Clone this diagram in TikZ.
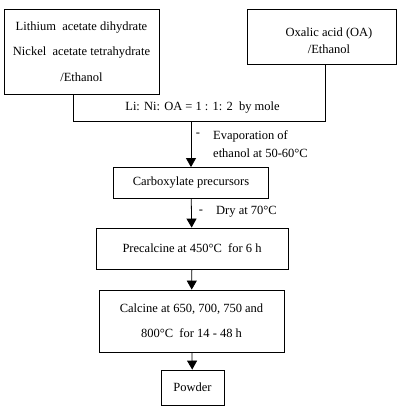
\documentclass[tikz,border=0pt]{standalone}
\usepackage{fontspec}
\setmainfont{Liberation Serif}
\usepackage{tikz}
\usetikzlibrary{arrows.meta,positioning,calc}
\tikzstyle{box}=[draw, line width=0.8pt, inner sep=0pt, font=\fontsize{12.5}{14}\selectfont, align=center]
\tikzstyle{note}=[inner sep=0pt, font=\fontsize{12.5}{14}\selectfont]
\tikzstyle{flow}=[draw, line width=0.8pt, -{Triangle[width=10pt,length=9pt]}]

\begin{document}
\begin{tikzpicture}[x=1pt,y=-1pt]
  \useasboundingbox (0,0) rectangle (400,410);
  % starting materials
  \node[box, minimum width=155, minimum height=85, font=\fontsize{12.5}{25.5}\selectfont] (src1) at (81.5,51.5)
    {Lithium\ \ acetate dihydrate\\Nickel\ \ acetate tetrahydrate\\/Ethanol};
  \node[box, minimum width=149, minimum height=55] (src2) at (321.5,36.5) {};
  \node[note, align=center, font=\fontsize{12.5}{17}\selectfont] (src2txt) at (329,40.5) {Oxalic acid (OA)\\/Ethanol};
  % mixing
  \coordinate (mixL) at (73,121);
  \coordinate (mixR) at (325,121);
  \draw[line width=0.8pt] (mixL |- src1.south) -- (mixL) -- (mixR) -- (mixR |- src2.south);
  \node[note] (ratio) at (202.5,108) {Li: Ni: OA = 1 : 1: 2 \ by mole};
  % process chain
  \node[box, minimum width=155, minimum height=31] (carb) at (191,183) {Carboxylate precursors};
  \node[box, minimum width=192, minimum height=41] (prec) at (192,248.5) {Precalcine at 450°C\ \ for 6 h};
  \node[box, minimum width=185, minimum height=62, font=\fontsize{12.5}{25}\selectfont] (calc) at (191.5,321)
    {Calcine at 650, 700, 750 and\\800°C\ \ for 14 - 48 h};
  \node[box, minimum width=63, minimum height=35] (powder) at (192.5,387.5) {Powder};
  \draw[flow] (carb.north |- mixL) -- (carb.north);
  \draw[flow] (carb) -- (prec);
  \draw[flow] (prec) -- (calc);
  \draw[flow] (calc) -- (powder);
  % conditions
  \node[note] (dash1) at (198,135) {-};
  \node[note, anchor=west, align=left, font=\fontsize{12.5}{18}\selectfont] (evap) at (213,144)
    {Evaporation of\\ethanol at 50-60°C};
  \node[note] (dash2) at (201,212) {-};
  \node[note, anchor=west] (dry) at (216,212) {Dry at 70°C};
\end{tikzpicture}
\end{document}
